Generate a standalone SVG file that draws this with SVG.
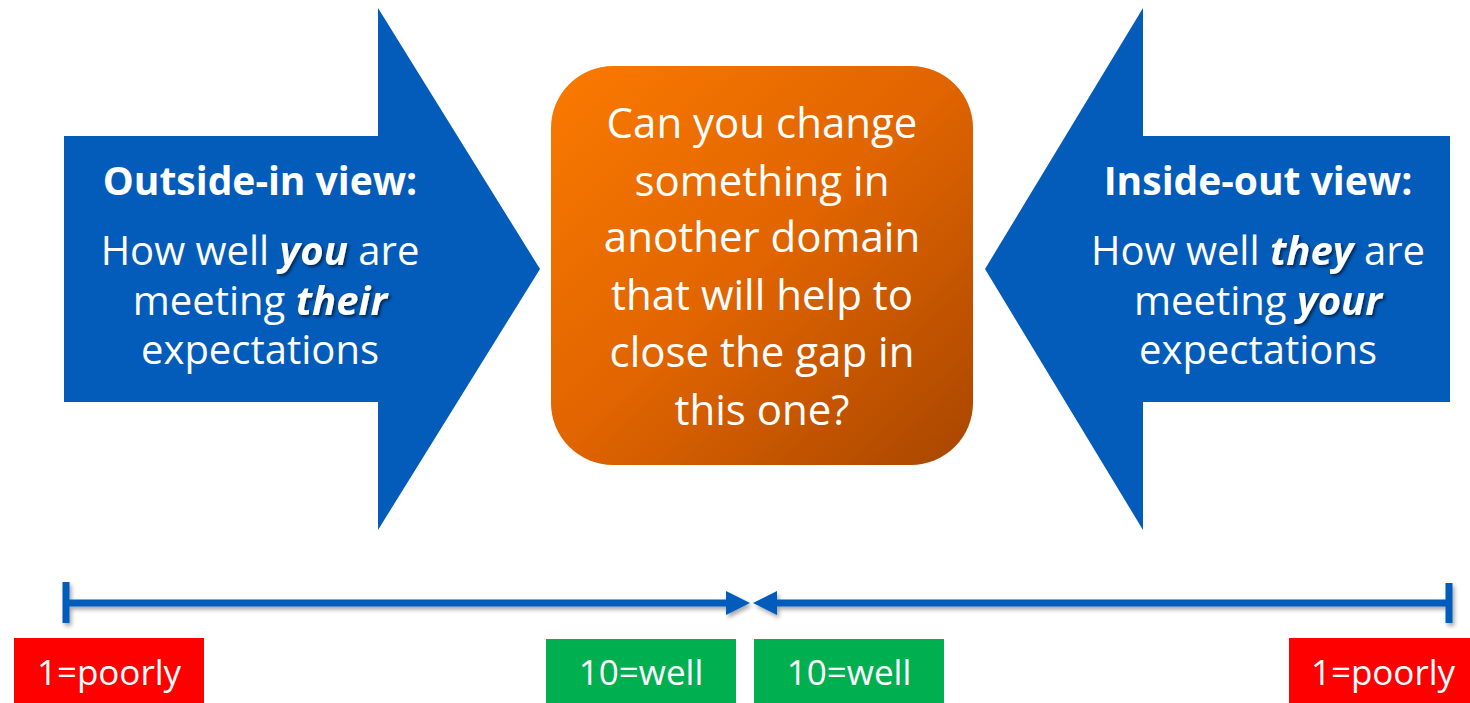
<svg xmlns="http://www.w3.org/2000/svg" width="1470" height="703" viewBox="0 0 1470 703">
<defs>
<linearGradient id="og" x1="0" y1="0" x2="1" y2="1">
<stop offset="0" stop-color="#FA7A00"/>
<stop offset="0.5" stop-color="#E06400"/>
<stop offset="1" stop-color="#A84600"/>
</linearGradient>
<filter id="ls" x="-5%" y="-100%" width="110%" height="300%">
<feDropShadow dx="2" dy="3" stdDeviation="2" flood-color="#000" flood-opacity="0.35"/>
</filter>
<filter id="ts" x="-10%" y="-20%" width="120%" height="150%">
<feDropShadow dx="2" dy="2" stdDeviation="1.5" flood-color="#000" flood-opacity="0.55"/>
</filter>
<marker id="ah" viewBox="0 0 24 24" markerWidth="24" markerHeight="24" refX="0" refY="12" orient="auto" markerUnits="userSpaceOnUse">
<path d="M0,0 L24,12 L0,24 Z" fill="#035BBA"/>
</marker>
</defs>
<style>
.blue{fill:#035BBA}
.t{font-family:"Open Sans","Liberation Sans",sans-serif;fill:#fff;text-anchor:middle}
.h{font-weight:bold;font-size:39px}
.b{font-size:40px}
.em{font-weight:bold;font-style:italic}
.o{font-size:42px}
.lab{font-size:35px}
.ln{stroke:#035BBA;stroke-width:7;fill:none}
</style>
<rect width="1470" height="703" fill="#fff"/>

<g id="outside-in">
<polygon class="blue" points="64,136 378,136 378,8 540,269 378,530 378,402 64,402"/>
<text class="t h" x="260" y="195">Outside-in view:</text>
<text class="t b" x="260" y="265">How well <tspan class="em" filter="url(#ts)">you</tspan> are</text>
<text class="t b" x="260" y="315">meeting <tspan class="em" filter="url(#ts)">their</tspan></text>
<text class="t b" x="260" y="364">expectations</text>
</g>

<g id="inside-out">
<polygon class="blue" points="1450,136 1143,136 1143,8 985,269 1143,530 1143,402 1450,402"/>
<text class="t h" x="1258" y="195">Inside-out view:</text>
<text class="t b" x="1258" y="265">How well <tspan class="em" filter="url(#ts)">they</tspan> are</text>
<text class="t b" x="1258" y="315">meeting <tspan class="em" filter="url(#ts)">your</tspan></text>
<text class="t b" x="1258" y="364">expectations</text>
</g>

<g id="question">
<rect x="551" y="66" width="422" height="399" rx="62" fill="url(#og)"/>
<text class="t o" x="762" y="138">Can you change</text>
<text class="t o" x="762" y="196">something in</text>
<text class="t o" x="762" y="252">another domain</text>
<text class="t o" x="762" y="310">that will help to</text>
<text class="t o" x="762" y="367">close the gap in</text>
<text class="t o" x="762" y="425">this one?</text>
</g>

<g id="connectors" filter="url(#ls)">
<line class="ln" x1="66" y1="582" x2="66" y2="623"/>
<line class="ln" x1="1449" y1="583" x2="1449" y2="623"/>
<line class="ln" x1="63" y1="603" x2="726" y2="603" marker-end="url(#ah)"/>
<line class="ln" x1="1452" y1="603" x2="777" y2="603" marker-end="url(#ah)"/>
</g>

<g id="label-left-poorly">
<rect x="14" y="638" width="190" height="65" fill="#FF0000"/>
<text class="t lab" x="109" y="685">1=poorly</text>
</g>
<g id="label-left-well">
<rect x="546" y="639" width="190" height="64" fill="#00B050"/>
<text class="t lab" x="641" y="685">10=well</text>
</g>
<g id="label-right-well">
<rect x="754" y="639" width="190" height="64" fill="#00B050"/>
<text class="t lab" x="849" y="685">10=well</text>
</g>
<g id="label-right-poorly">
<rect x="1289" y="638" width="181" height="65" fill="#FF0000"/>
<text class="t lab" x="1383" y="685">1=poorly</text>
</g>
</svg>
